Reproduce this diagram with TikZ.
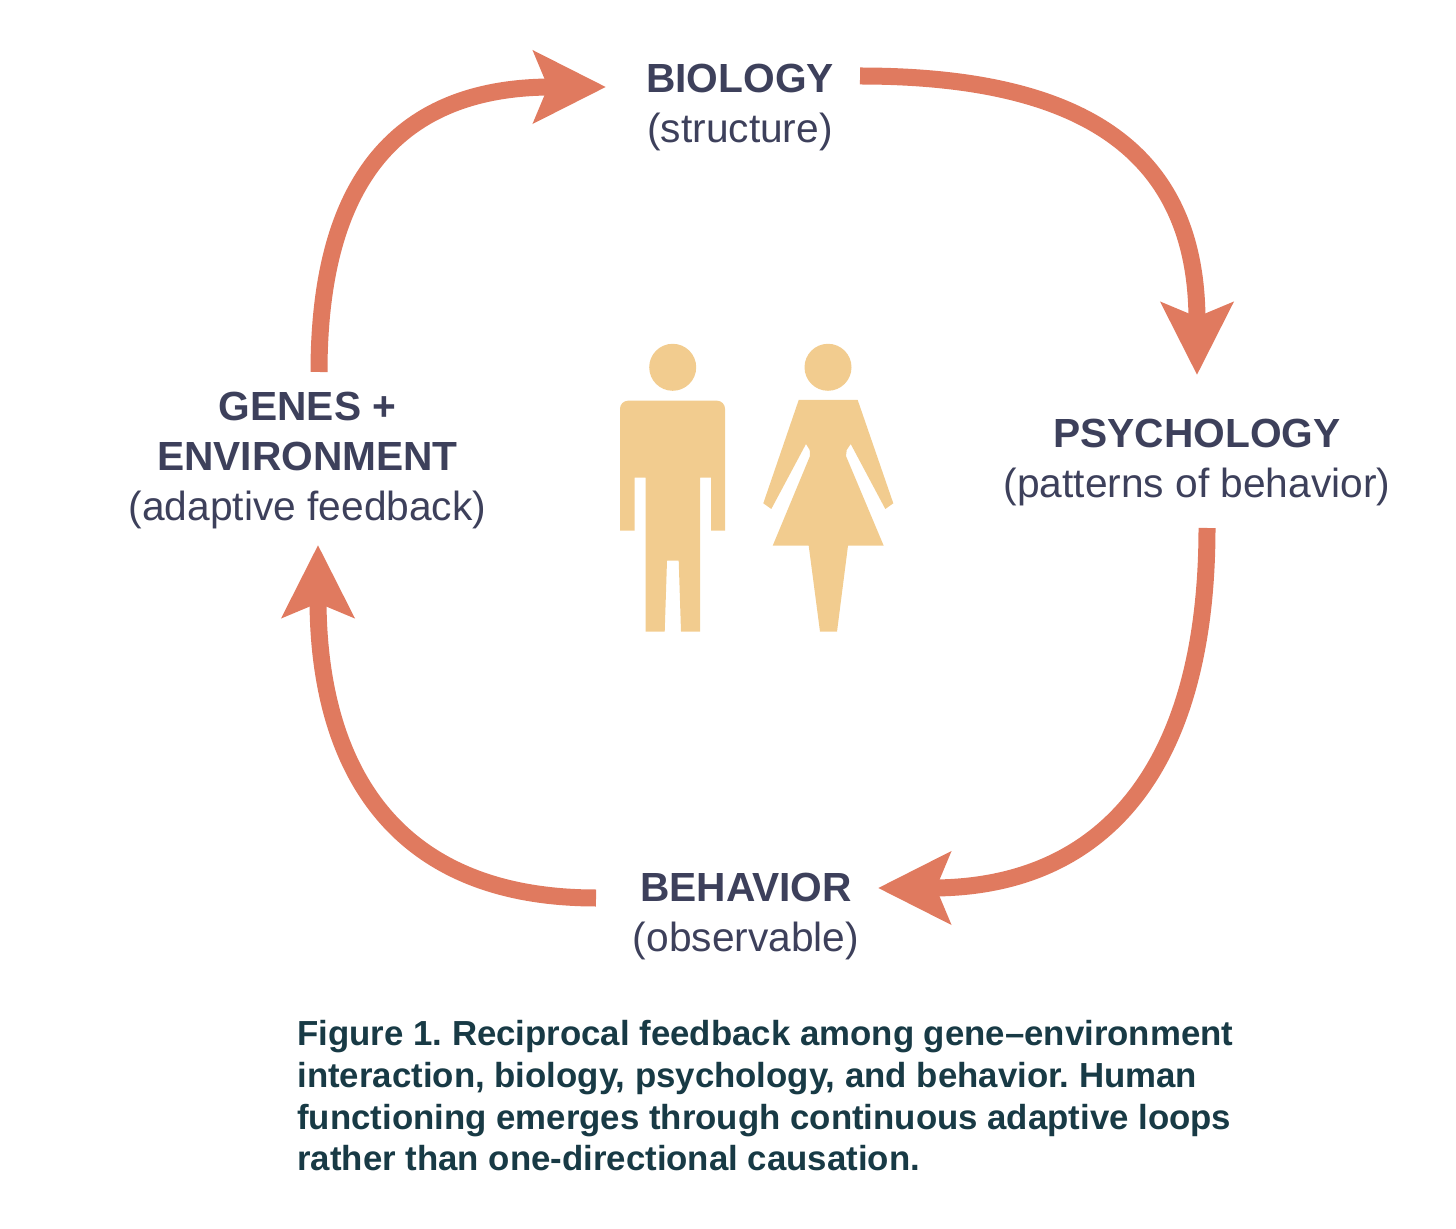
\documentclass[tikz,border=0pt]{standalone}
\usepackage{fontspec}
\setmainfont{Liberation Sans}
\usetikzlibrary{arrows.meta}
\definecolor{loopCoral}{HTML}{E07A5F}
\definecolor{labelNavy}{HTML}{3D405B}
\definecolor{figureSand}{HTML}{F2CC8F}
\definecolor{captionTeal}{HTML}{183A45}
\begin{document}
\frenchspacing
\begin{tikzpicture}[x=0.5pt,y=-0.5pt,
    loopArrow/.style={-{Stealth[length=36pt,width=35.5pt,inset=7pt]},line width=8.5pt,draw=loopCoral},
    loopLabel/.style={align=center,text=labelNavy,font=\fontsize{20.35}{25}\selectfont,inner sep=0pt},
    figureShape/.style={fill=figureSand},
]
\useasboundingbox (0,0) rectangle (1456,1229);
% Stages of the loop
\node[loopLabel] (biology) at (740,108) {\textbf{BIOLOGY}\\(structure)};
\node[loopLabel] (psychology) at (1197,463) {\textbf{PSYCHOLOGY}\\(patterns of behavior)};
\node[loopLabel] (behavior) at (746,916) {\textbf{BEHAVIOR}\\(observable)};
\node[loopLabel] (genes) at (307.5,461) {\textbf{GENES +}\\\textbf{ENVIRONMENT}\\(adaptive feedback)};
% Arrow ends
\coordinate (biologyOut) at (860,76);
\coordinate (biologyIn) at (606,87);
\coordinate (psychologyIn) at (1197,375);
\coordinate (psychologyOut) at (1207,528);
\coordinate (behaviorIn) at (878,888);
\coordinate (behaviorOut) at (596,898);
\coordinate (genesIn) at (318,545);
\coordinate (genesOut) at (319,372);
% Feedback arrows
\draw[loopArrow] (biologyOut) .. controls (1096,76) and (1197,161) .. (psychologyIn);
\draw[loopArrow] (psychologyOut) .. controls (1207,773) and (1100,888) .. (behaviorIn);
\draw[loopArrow] (behaviorOut) .. controls (383,898) and (318,754) .. (genesIn);
\draw[loopArrow] (genesOut) .. controls (319,205) and (379,87) .. (biologyIn);
% Man
\fill[figureShape] (672.7,367.3) circle[radius=23.5];
\fill[figureShape] (620,530.7) [rounded corners=4pt] -- (620,400.7) -- (725,400.7) [sharp corners] -- (725,530.7) -- (711,530.7) -- (711,477.7) -- (700,477.7) -- (700,631.7) -- (681,631.7) -- (678.7,560.7) -- (667,560.7) -- (664.7,631.7) -- (645.7,631.7) -- (645.7,477.7) -- (634.7,477.7) -- (634.7,530.7) -- cycle;
% Woman
\fill[figureShape] (828,367.3) circle[radius=23.5];
\fill[figureShape] (798.7,400) -- (857.7,400) -- (893.3,503.3) -- (885.3,509) -- (850.7,444) -- (846.7,450) -- (846,456) -- (883.7,545.7) -- (848,545.7) -- (837,631.7) -- (820,631.7) -- (808.7,545.7) -- (772.7,545.7) -- (810,456) -- (809.7,450) -- (806,444) -- (771.3,509) -- (763.3,503.3) -- cycle;
% Caption
\node[anchor=north west,align=left,inner sep=0pt,text=captionTeal,font=\fontsize{17.4}{20.85}\selectfont\bfseries] (caption) at (297,1020) {Figure 1. Reciprocal feedback among gene–environment\\interaction, biology, psychology, and behavior. Human\\functioning emerges through continuous adaptive loops\\rather than one-directional causation.};
\end{tikzpicture}
\end{document}
